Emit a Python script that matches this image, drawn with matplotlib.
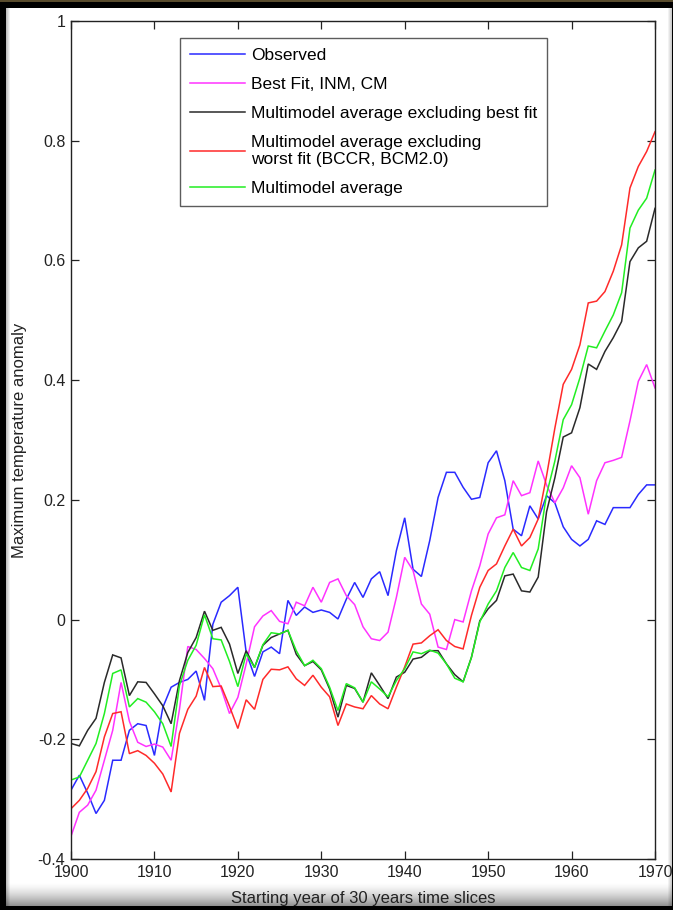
import numpy as np
import matplotlib
matplotlib.use("Agg")
import matplotlib.pyplot as plt
from matplotlib import font_manager

years = list(range(1900, 1971))

observed = [
    -0.285, -0.260, -0.290, -0.324, -0.302, -0.235, -0.235, -0.185, -0.174, -0.177,
    -0.227, -0.147, -0.113, -0.105, -0.100, -0.086, -0.135, -0.008, 0.029, 0.040,
    0.054, -0.055, -0.095, -0.054, -0.046, -0.057, 0.032, 0.007, 0.021, 0.012,
    0.016, 0.012, 0.001, 0.034, 0.062, 0.037, 0.068, 0.080, 0.040, 0.115,
    0.170, 0.084, 0.072, 0.132, 0.204, 0.246, 0.246, 0.221, 0.201, 0.204,
    0.262, 0.282, 0.232, 0.151, 0.140, 0.190, 0.168, 0.207, 0.195, 0.155,
    0.134, 0.123, 0.134, 0.165, 0.159, 0.187, 0.187, 0.187, 0.209, 0.225,
    0.225,
]

best_fit_inm = [
    -0.362, -0.322, -0.310, -0.285, -0.235, -0.185, -0.105, -0.170, -0.205, -0.212,
    -0.208, -0.213, -0.235, -0.150, -0.045, -0.050, -0.065, -0.082, -0.115, -0.157,
    -0.130, -0.074, -0.012, 0.006, 0.015, -0.003, -0.007, 0.029, 0.023, 0.054,
    0.029, 0.062, 0.068, 0.040, 0.025, -0.012, -0.032, -0.035, -0.021, 0.037,
    0.104, 0.082, 0.026, 0.009, -0.046, -0.050, 0.000, -0.004, 0.048, 0.090,
    0.143, 0.170, 0.175, 0.232, 0.207, 0.212, 0.265, 0.225, 0.195, 0.220,
    0.257, 0.237, 0.176, 0.232, 0.262, 0.266, 0.271, 0.332, 0.398, 0.426,
    0.387,
]

excl_best = [
    -0.207, -0.211, -0.185, -0.165, -0.105, -0.059, -0.064, -0.127, -0.104, -0.105,
    -0.124, -0.144, -0.174, -0.102, -0.055, -0.030, 0.014, -0.018, -0.013, -0.041,
    -0.090, -0.052, -0.080, -0.043, -0.030, -0.024, -0.018, -0.058, -0.077, -0.070,
    -0.084, -0.116, -0.163, -0.110, -0.115, -0.138, -0.089, -0.110, -0.132, -0.096,
    -0.088, -0.066, -0.063, -0.052, -0.052, -0.074, -0.092, -0.104, -0.063, -0.002,
    0.018, 0.032, 0.073, 0.076, 0.048, 0.046, 0.071, 0.180, 0.237, 0.305,
    0.312, 0.354, 0.427, 0.418, 0.448, 0.471, 0.498, 0.598, 0.621, 0.632,
    0.687,
]

excl_worst = [
    -0.316, -0.302, -0.282, -0.254, -0.196, -0.157, -0.154, -0.224, -0.219, -0.227,
    -0.240, -0.258, -0.288, -0.190, -0.150, -0.128, -0.080, -0.112, -0.111, -0.145,
    -0.182, -0.134, -0.150, -0.100, -0.083, -0.084, -0.079, -0.099, -0.110, -0.093,
    -0.113, -0.129, -0.177, -0.141, -0.146, -0.149, -0.127, -0.141, -0.149, -0.113,
    -0.079, -0.041, -0.039, -0.027, -0.017, -0.035, -0.045, -0.049, 0.007, 0.054,
    0.082, 0.093, 0.123, 0.151, 0.123, 0.137, 0.168, 0.240, 0.320, 0.393,
    0.418, 0.459, 0.529, 0.532, 0.548, 0.582, 0.626, 0.721, 0.757, 0.782,
    0.815,
]

multimodel = [
    -0.268, -0.263, -0.235, -0.207, -0.157, -0.090, -0.084, -0.146, -0.132, -0.138,
    -0.154, -0.174, -0.212, -0.110, -0.068, -0.043, 0.008, -0.032, -0.034, -0.070,
    -0.112, -0.057, -0.080, -0.042, -0.022, -0.024, -0.018, -0.052, -0.077, -0.068,
    -0.082, -0.113, -0.152, -0.107, -0.114, -0.138, -0.104, -0.116, -0.129, -0.102,
    -0.082, -0.054, -0.057, -0.051, -0.056, -0.074, -0.098, -0.104, -0.063, -0.004,
    0.026, 0.048, 0.087, 0.112, 0.087, 0.082, 0.118, 0.209, 0.265, 0.334,
    0.359, 0.404, 0.457, 0.454, 0.482, 0.509, 0.546, 0.654, 0.684, 0.704,
    0.751,
]

labels = [
    "Observed",
    "Best Fit, INM, CM",
    "Multimodel average excluding best fit",
    "Multimodel average excluding\nworst fit (BCCR, BCM2.0)",
    "Multimodel average",
]
colors = ["#2a2aff", "#ff33ff", "#2a2a2a", "#ff2a2a", "#22ee22"]

xticks = [1900, 1910, 1920, 1930, 1940, 1950, 1960, 1970]
yticks = [-0.4, -0.2, 0, 0.2, 0.4, 0.6, 0.8, 1]
yticklabels = ["-0.4", "-0.2", "0", "0.2", "0.4", "0.6", "0.8", "1"]

available = {f.name for f in font_manager.fontManager.ttflist}
family = [f for f in ["Liberation Sans Narrow", "Liberation Sans", "DejaVu Sans"] if f in available]
plt.rcParams["font.family"] = family

W, H = 673, 910
fig = plt.figure(figsize=(W / 100, H / 100), dpi=100)
fig.patch.set_facecolor("black")

# Framed white panel with a soft bevel along the edges
bg = np.zeros((H, W, 3))
x0, x1, y0, y1 = 6, 672, 8, 906
bg[y0:y1, x0:x1] = 1.0
bev = 24
for i in range(bev):
    shade = 1.0 - 0.45 * (i / bev) ** 1.5
    bg[y1 - bev + i, x0:x1] = shade
for i in range(5):
    shade = 1.0 - 0.25 * (i / 5)
    bg[y0:y1, x1 - 5 + i] *= shade
for i in range(4):
    bg[y0:y1, x0 + i] *= 0.75 + 0.25 * (i / 4)
bg[0:2, :] = [0.35, 0.30, 0.18]
bax = fig.add_axes([0, 0, 1, 1], zorder=-10)
bax.imshow(bg, aspect="auto", interpolation="nearest")
bax.axis("off")

left, right, top, bottom = 71, 655, 21, 859
ax = fig.add_axes([left / W, 1 - bottom / H, (right - left) / W, (bottom - top) / H])
ax.set_facecolor("white")

series = [observed, best_fit_inm, excl_best, excl_worst, multimodel]
for vals, c, lab in zip(series, colors, labels):
    ax.plot(years, vals, color=c, lw=1.1, label=lab, solid_joinstyle="miter")

ax.set_xlim(1900, 1970)
ax.set_ylim(-0.4, 1.0)
ax.set_xticks(xticks)
ax.set_xticklabels([str(x) for x in xticks])
ax.set_yticks(yticks)
ax.set_yticklabels(yticklabels)
ax.tick_params(direction="in", length=6, width=0.9, top=True, right=True,
               labelsize=11.5, colors="#222222")
ax.tick_params(axis="x", pad=4)
ax.tick_params(axis="y", pad=4)
for s in ax.spines.values():
    s.set_linewidth(1.0)
    s.set_color("#222222")

ax.set_xlabel("Starting year of 30 years time slices", fontsize=12, color="#222222", labelpad=8)
ax.set_ylabel("Maximum temperature anomaly", fontsize=12, color="#222222", labelpad=8)

leg = ax.legend(loc="upper left", bbox_to_anchor=((180 - left) / (right - left), (bottom - 38) / (bottom - top)),
                fontsize=12.5, frameon=True, fancybox=False, handlelength=3.2,
                handletextpad=0.35, labelspacing=0.8, borderpad=0.55, borderaxespad=0)
leg.get_frame().set_edgecolor("#333333")
leg.get_frame().set_linewidth(1.0)

fig.savefig("out.png", dpi=100, facecolor=fig.get_facecolor())
